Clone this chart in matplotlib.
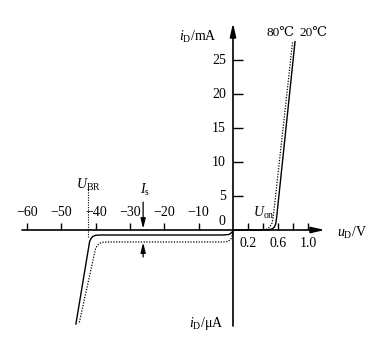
import numpy as np
import matplotlib
matplotlib.use('Agg')
import matplotlib.pyplot as plt

# ---------------- data ----------------
# forward branch: voltage (V) / current (mA)
fwd_v_20 = [0, 0.40, 0.47, 0.52, 0.55, 0.57, 0.583, 0.827]
fwd_i_20 = [0, 0, 0.03, 0.15, 0.4, 0.9, 1.96, 27.7]
fwd_v_80 = [0, 0.36, 0.42, 0.46, 0.49, 0.52, 0.537, 0.795]
fwd_i_80 = [0, 0, 0.03, 0.15, 0.45, 1.0, 1.96, 27.7]
# reverse branch: voltage (V) / current (uA)
rev_v_20 = [0, -0.3, -1.2, -3, -38.5, -40.0, -40.9, -41.4, -41.8, -45.8]
rev_i_20 = [0, -0.5, -0.9, -1.0, -1.0, -1.05, -1.3, -1.7, -2.3, -18.8]
rev_v_80 = [0, -0.2, -0.6, -1.5, -3, -36.5, -38.0, -39.0, -39.6, -40.1, -44.9]
rev_i_80 = [0, -1.0, -1.8, -2.3, -2.4, -2.4, -2.45, -2.7, -3.1, -3.8, -18.8]

neg_xticks = [-60, -50, -40, -30, -20, -10]
pos_xticks = [0.2, 0.4, 0.6, 0.8, 1.0]
pos_xlabels = [0.2, 0.6, 1.0]
yticks = [5, 10, 15, 20, 25]
U_BR = -42.3
I_S_V = -26.2

# ---------------- style ----------------
plt.rcParams['font.family'] = ['Liberation Serif', 'DejaVu Serif', 'DejaVu Sans']
plt.rcParams['mathtext.fontset'] = 'custom'
plt.rcParams['mathtext.rm'] = 'Liberation Serif'
plt.rcParams['mathtext.it'] = 'Liberation Serif:italic'
plt.rcParams['mathtext.bf'] = 'Liberation Serif:bold'
FS = 10

# piecewise-linear axis scales (different units on each side of 0)
XN, XP = 3.43, 75.0   # reverse V, forward V
YP, YN = 6.8, 5.0     # forward mA, reverse uA

def fx(v):
    v = np.asarray(v, float)
    return np.where(v < 0, v * XN, v * XP)

def ix(s):
    s = np.asarray(s, float)
    return np.where(s < 0, s / XN, s / XP)

def fy(i):
    i = np.asarray(i, float)
    return np.where(i < 0, i * YN, i * YP)

def iy(s):
    s = np.asarray(s, float)
    return np.where(s < 0, s / YN, s / YP)

fig = plt.figure(figsize=(3.84, 3.38), dpi=100)
ax = fig.add_axes([0, 0, 1, 1])
ax.set_xscale('function', functions=(fx, ix))
ax.set_yscale('function', functions=(fy, iy))
ax.set_xlim(float(ix(-233)), float(ix(151)))
ax.set_ylim(float(iy(-108)), float(iy(230)))

for s in ['top', 'right']:
    ax.spines[s].set_visible(False)
ax.spines['bottom'].set_position(('data', 0))
ax.spines['left'].set_position(('data', 0))
ax.spines['bottom'].set_color('none')
ax.spines['left'].set_color('none')

ax.set_xticks(neg_xticks + pos_xticks)
ax.set_yticks(yticks)
ax.minorticks_off()
ax.tick_params(axis='x', direction='in', length=5, width=1, labelbottom=False,
               color='black')
ax.tick_params(axis='y', direction='in', length=7, width=1, labelleft=False,
               color='black')

# axes with arrows
axis_kw = dict(arrowstyle='-|>,head_length=0.8,head_width=0.18', lw=1.2,
               color='black', shrinkA=0, shrinkB=0, mutation_scale=10)
ax.annotate('', xy=(float(ix(92)), 0), xytext=(float(ix(-211)), 0),
            arrowprops=axis_kw)
ax.annotate('', xy=(0, float(iy(207))), xytext=(0, float(iy(-96))),
            arrowprops=axis_kw)

# curves
ax.plot(fwd_v_20, fwd_i_20, color='black', lw=1.0, solid_joinstyle='round')
ax.plot(rev_v_20, rev_i_20, color='black', lw=1.0, solid_joinstyle='round')
ax.plot(fwd_v_80, fwd_i_80, color='black', lw=0.9, linestyle=(0, (1, 1.2)))
ax.plot(rev_v_80, rev_i_80, color='black', lw=0.9, linestyle=(0, (1, 1.2)))

# breakdown voltage marker
ax.plot([U_BR, U_BR], [-1.4, 6.2], color='black', lw=0.8, linestyle=(0, (1, 1.2)))

# I_s arrows
arr_kw = dict(arrowstyle='-|>,head_length=0.6,head_width=0.15', lw=0.9,
              color='black', shrinkA=0, shrinkB=0, mutation_scale=10)
ax.annotate('', xy=(I_S_V, 0.2), xytext=(I_S_V, 4.1), arrowprops=arr_kw)
ax.annotate('', xy=(I_S_V, -2.5), xytext=(I_S_V, -5.4), arrowprops=arr_kw)

# tick labels
for t in neg_xticks:
    ax.text(t, 2.5, '\u2212%d' % abs(t), ha='center', va='center', fontsize=FS)
for t in pos_xlabels:
    ax.text(t, -2.7, '%.1f' % t, ha='center', va='center', fontsize=FS)
for t in yticks:
    ax.text(-2.1, t, '%d' % t, ha='right', va='center', fontsize=FS)
ax.text(-3.2, 1.2, '0', ha='center', va='center', fontsize=FS)

# axis titles and annotations
ax.text(-4.6, 28.4, r'$i_{\mathrm{D}}$/mA', ha='right', va='center', fontsize=FS)
ax.text(1.387, -0.6, r'$u_{\mathrm{D}}$/V', ha='left', va='center', fontsize=FS)
ax.text(-7.7, -18.6, r'$i_{\mathrm{D}}$/μA', ha='center', va='center', fontsize=FS)
ax.text(0.453, 29.0, '80\u2103', ha='left', va='center', fontsize=9.5)
ax.text(0.88, 29.0, '20\u2103', ha='left', va='center', fontsize=9.5)
ax.text(-42.1, 6.6, r'$U_{\mathrm{BR}}$', ha='center', va='center', fontsize=FS)
ax.text(-25.7, 5.9, r'$I_{\mathrm{s}}$', ha='center', va='center', fontsize=FS)
ax.text(0.413, 2.57, r'$U_{\mathrm{on}}$', ha='center', va='center', fontsize=FS)

fig.savefig('out.png', dpi=100, facecolor='white')
